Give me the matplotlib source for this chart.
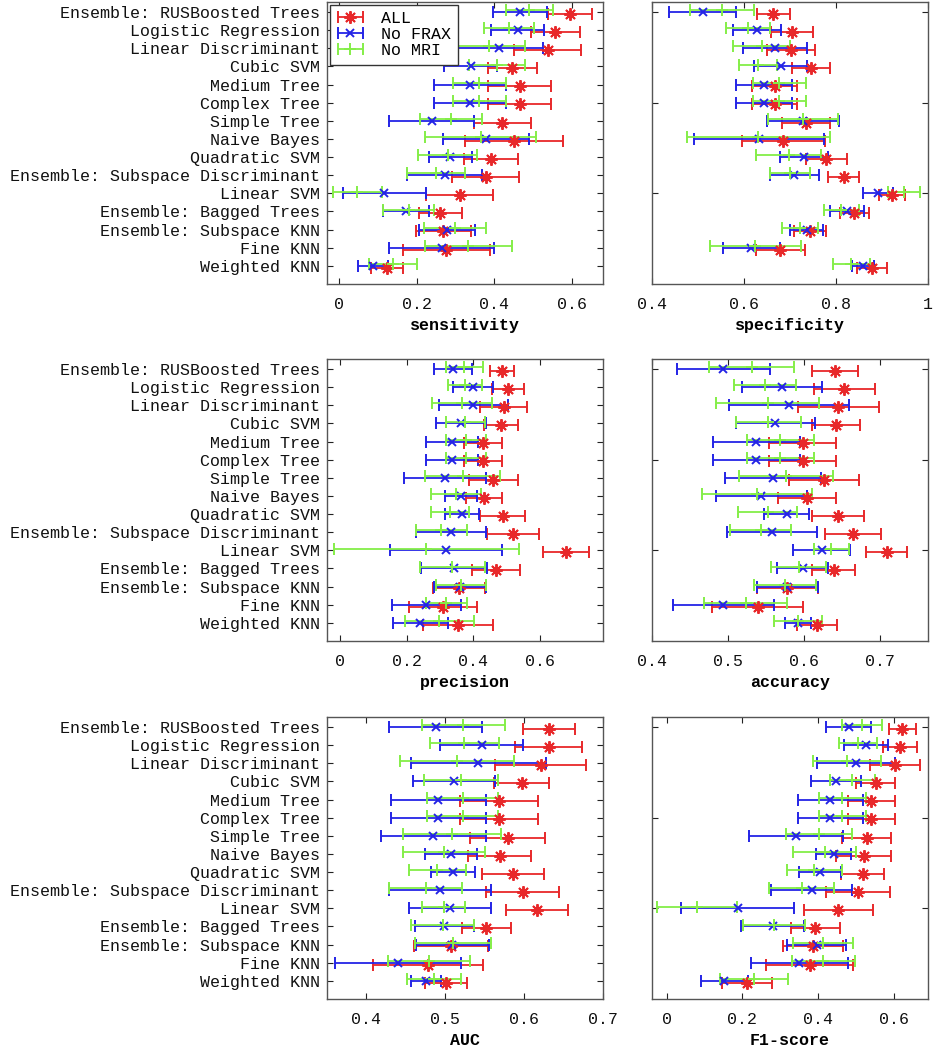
import numpy as np
import matplotlib.pyplot as plt
from matplotlib.ticker import FuncFormatter
from matplotlib.container import ErrorbarContainer
from matplotlib.legend_handler import HandlerErrorbar

plt.rcParams['font.family'] = ['Liberation Mono', 'DejaVu Sans Mono']
plt.rcParams['font.size'] = 12

models = ['Ensemble: RUSBoosted Trees', 'Logistic Regression', 'Linear Discriminant',
          'Cubic SVM', 'Medium Tree', 'Complex Tree', 'Simple Tree', 'Naive Bayes',
          'Quadratic SVM', 'Ensemble: Subspace Discriminant', 'Linear SVM',
          'Ensemble: Bagged Trees', 'Ensemble: Subspace KNN', 'Fine KNN', 'Weighted KNN']
series = ['ALL', 'No FRAX', 'No MRI']

# sensitivity (mean, half width)
sens_all = [0.596, 0.558, 0.538, 0.447, 0.466, 0.466, 0.421, 0.451, 0.393, 0.378, 0.311, 0.261, 0.269, 0.277, 0.124]
sens_all_err = [0.056, 0.063, 0.086, 0.063, 0.082, 0.082, 0.073, 0.126, 0.070, 0.086, 0.086, 0.055, 0.071, 0.113, 0.042]
sens_nofrax = [0.466, 0.461, 0.412, 0.340, 0.338, 0.338, 0.239, 0.379, 0.287, 0.273, 0.117, 0.173, 0.279, 0.265, 0.088]
sens_nofrax_err = [0.070, 0.068, 0.114, 0.068, 0.092, 0.092, 0.109, 0.111, 0.056, 0.097, 0.108, 0.059, 0.073, 0.136, 0.038]
sens_nomri = [0.491, 0.439, 0.388, 0.407, 0.362, 0.362, 0.288, 0.365, 0.280, 0.250, 0.047, 0.180, 0.298, 0.334, 0.139]
sens_nomri_err = [0.060, 0.065, 0.093, 0.072, 0.069, 0.069, 0.080, 0.143, 0.075, 0.075, 0.063, 0.066, 0.080, 0.112, 0.061]

# specificity
spec_all = [0.664, 0.704, 0.702, 0.745, 0.667, 0.667, 0.735, 0.685, 0.779, 0.817, 0.921, 0.840, 0.743, 0.679, 0.878]
spec_all_err = [0.036, 0.046, 0.053, 0.041, 0.049, 0.049, 0.052, 0.090, 0.044, 0.034, 0.028, 0.032, 0.035, 0.053, 0.032]
spec_nofrax = [0.510, 0.628, 0.668, 0.680, 0.644, 0.644, 0.729, 0.633, 0.731, 0.709, 0.891, 0.824, 0.736, 0.616, 0.859]
spec_nofrax_err = [0.072, 0.053, 0.070, 0.058, 0.061, 0.061, 0.078, 0.141, 0.052, 0.053, 0.033, 0.037, 0.036, 0.062, 0.024]
spec_nomri = [0.552, 0.609, 0.639, 0.631, 0.677, 0.677, 0.729, 0.631, 0.697, 0.700, 0.948, 0.811, 0.722, 0.624, 0.833]
spec_nomri_err = [0.070, 0.048, 0.062, 0.041, 0.058, 0.058, 0.076, 0.156, 0.070, 0.043, 0.034, 0.038, 0.039, 0.099, 0.040]

# precision
prec_all = [0.487, 0.505, 0.491, 0.484, 0.428, 0.428, 0.460, 0.433, 0.488, 0.520, 0.680, 0.468, 0.357, 0.310, 0.354]
prec_all_err = [0.036, 0.048, 0.070, 0.051, 0.057, 0.057, 0.074, 0.054, 0.067, 0.078, 0.069, 0.071, 0.079, 0.102, 0.104]
prec_nofrax = [0.339, 0.399, 0.400, 0.363, 0.336, 0.336, 0.315, 0.362, 0.366, 0.333, 0.318, 0.341, 0.360, 0.259, 0.241]
prec_nofrax_err = [0.058, 0.061, 0.104, 0.074, 0.079, 0.079, 0.123, 0.048, 0.051, 0.105, 0.169, 0.099, 0.078, 0.103, 0.084]
prec_nomri = [0.373, 0.375, 0.367, 0.376, 0.377, 0.377, 0.368, 0.348, 0.330, 0.304, 0.259, 0.337, 0.362, 0.319, 0.298]
prec_nomri_err = [0.055, 0.050, 0.090, 0.059, 0.060, 0.060, 0.112, 0.075, 0.056, 0.076, 0.279, 0.097, 0.075, 0.061, 0.104]

# accuracy
acc_all = [0.641, 0.653, 0.645, 0.642, 0.598, 0.598, 0.626, 0.604, 0.645, 0.664, 0.709, 0.639, 0.578, 0.539, 0.617]
acc_all_err = [0.030, 0.040, 0.053, 0.032, 0.044, 0.044, 0.046, 0.038, 0.034, 0.037, 0.027, 0.028, 0.040, 0.060, 0.026]
acc_nofrax = [0.494, 0.571, 0.580, 0.562, 0.537, 0.537, 0.559, 0.544, 0.577, 0.558, 0.623, 0.598, 0.578, 0.494, 0.592]
acc_nofrax_err = [0.061, 0.052, 0.079, 0.052, 0.057, 0.057, 0.063, 0.060, 0.030, 0.059, 0.038, 0.034, 0.040, 0.067, 0.017]
acc_nomri = [0.531, 0.549, 0.552, 0.553, 0.569, 0.569, 0.576, 0.538, 0.552, 0.543, 0.636, 0.593, 0.575, 0.523, 0.592]
acc_nomri_err = [0.056, 0.041, 0.068, 0.043, 0.044, 0.044, 0.062, 0.072, 0.039, 0.040, 0.023, 0.036, 0.041, 0.055, 0.031]

# AUC
auc_all = [0.631, 0.631, 0.621, 0.597, 0.568, 0.568, 0.579, 0.569, 0.586, 0.598, 0.616, 0.552, 0.507, 0.478, 0.501]
auc_all_err = [0.033, 0.042, 0.058, 0.035, 0.049, 0.049, 0.048, 0.040, 0.039, 0.046, 0.039, 0.031, 0.047, 0.070, 0.027]
auc_nofrax = [0.488, 0.546, 0.542, 0.511, 0.491, 0.491, 0.485, 0.507, 0.510, 0.493, 0.506, 0.499, 0.509, 0.440, 0.475]
auc_nofrax_err = [0.059, 0.053, 0.086, 0.052, 0.060, 0.060, 0.066, 0.033, 0.028, 0.065, 0.052, 0.038, 0.046, 0.080, 0.019]
auc_nomri = [0.523, 0.524, 0.515, 0.520, 0.522, 0.522, 0.509, 0.498, 0.490, 0.475, 0.498, 0.497, 0.510, 0.479, 0.486]
auc_nomri_err = [0.053, 0.044, 0.072, 0.047, 0.045, 0.045, 0.062, 0.052, 0.036, 0.046, 0.027, 0.040, 0.048, 0.052, 0.034]

# F1-score
f1_all = [0.623, 0.617, 0.604, 0.553, 0.541, 0.541, 0.529, 0.521, 0.518, 0.506, 0.454, 0.393, 0.387, 0.379, 0.212]
f1_all_err = [0.036, 0.046, 0.066, 0.052, 0.062, 0.062, 0.065, 0.073, 0.058, 0.085, 0.092, 0.065, 0.080, 0.115, 0.066]
f1_nofrax = [0.481, 0.527, 0.501, 0.448, 0.433, 0.433, 0.343, 0.442, 0.406, 0.384, 0.188, 0.280, 0.397, 0.351, 0.153]
f1_nofrax_err = [0.059, 0.058, 0.104, 0.067, 0.086, 0.086, 0.124, 0.046, 0.056, 0.107, 0.149, 0.082, 0.078, 0.128, 0.062]
f1_nomri = [0.516, 0.505, 0.476, 0.491, 0.465, 0.465, 0.403, 0.418, 0.390, 0.357, 0.081, 0.284, 0.414, 0.414, 0.232]
f1_nomri_err = [0.053, 0.050, 0.090, 0.059, 0.062, 0.062, 0.088, 0.083, 0.073, 0.085, 0.105, 0.082, 0.079, 0.083, 0.090]

panels = [
    ('sensitivity', [sens_all, sens_nofrax, sens_nomri], [sens_all_err, sens_nofrax_err, sens_nomri_err],
     (-0.031, 0.681), [0, 0.2, 0.4, 0.6]),
    ('specificity', [spec_all, spec_nofrax, spec_nomri], [spec_all_err, spec_nofrax_err, spec_nomri_err],
     (0.4, 1.0), [0.4, 0.6, 0.8, 1.0]),
    ('precision', [prec_all, prec_nofrax, prec_nomri], [prec_all_err, prec_nofrax_err, prec_nomri_err],
     (-0.04, 0.79), [0, 0.2, 0.4, 0.6]),
    ('accuracy', [acc_all, acc_nofrax, acc_nomri], [acc_all_err, acc_nofrax_err, acc_nomri_err],
     (0.4, 0.763), [0.4, 0.5, 0.6, 0.7]),
    ('AUC', [auc_all, auc_nofrax, auc_nomri], [auc_all_err, auc_nofrax_err, auc_nomri_err],
     (0.35, 0.70), [0.4, 0.5, 0.6, 0.7]),
    ('F1-score', [f1_all, f1_nofrax, f1_nomri], [f1_all_err, f1_nofrax_err, f1_nomri_err],
     (-0.0385, 0.691), [0, 0.2, 0.4, 0.6]),
]

colors = ['#E8282A', '#2424E6', '#84EE48']
markers = [(8, 2, 0), 'x', '+']
msizes = [9, 6, 8]
offsets = [-0.1, 0.0, 0.1]

W, H = 933, 1050
fig = plt.figure(figsize=(W / 100, H / 100), dpi=100)
lefts = [327, 652]
tops = [2, 359, 717]
aw, ah = 276, 282

ypos = np.arange(len(models), 0, -1)
fmt = FuncFormatter(lambda v, p: f'{v:g}')

for k, (name, means, errs, xlim, xticks) in enumerate(panels):
    row, col = divmod(k, 2)
    ax = fig.add_axes([lefts[col] / W, 1 - (tops[row] + ah) / H, aw / W, ah / H])
    handles = []
    for s in range(3):
        h = ax.errorbar(means[s], ypos + offsets[s], xerr=errs[s], linestyle='none',
                        marker=markers[s], ms=msizes[s], mec=colors[s], mfc=colors[s],
                        mew=1.4, color=colors[s], ecolor=colors[s], elinewidth=1.3,
                        capsize=4, capthick=1.3, label=series[s])
        handles.append(h)
    ax.set_xlim(*xlim)
    ax.set_ylim(0.0, 15.55)
    ax.set_xticks(xticks)
    ax.xaxis.set_major_formatter(fmt)
    if col == 0:
        ax.set_yticks(ypos)
        ax.set_yticklabels(models)
    else:
        ax.set_yticks([5, 10, 15])
        ax.set_yticklabels([])
    ax.tick_params(direction='in', top=True, right=True, length=4, width=0.8,
                   colors='#222222', labelcolor='#111111')
    ax.tick_params(axis='x', pad=9)
    ax.tick_params(axis='y', pad=5)
    for sp in ax.spines.values():
        sp.set_color('#555555')
        sp.set_linewidth(1.0)
    ax.set_xlabel(name, fontweight='bold', labelpad=5)
    if k == 0:
        leg = ax.legend(handles, series, loc='upper left', borderaxespad=0.15,
                        handlelength=1.7, handletextpad=1.0, labelspacing=0.05,
                        borderpad=0.4, fancybox=False, framealpha=1, edgecolor='#333333',
                        handler_map={ErrorbarContainer: HandlerErrorbar(xerr_size=0.75)})
        leg.get_frame().set_linewidth(1.0)

fig.savefig('out.png', dpi=100)
